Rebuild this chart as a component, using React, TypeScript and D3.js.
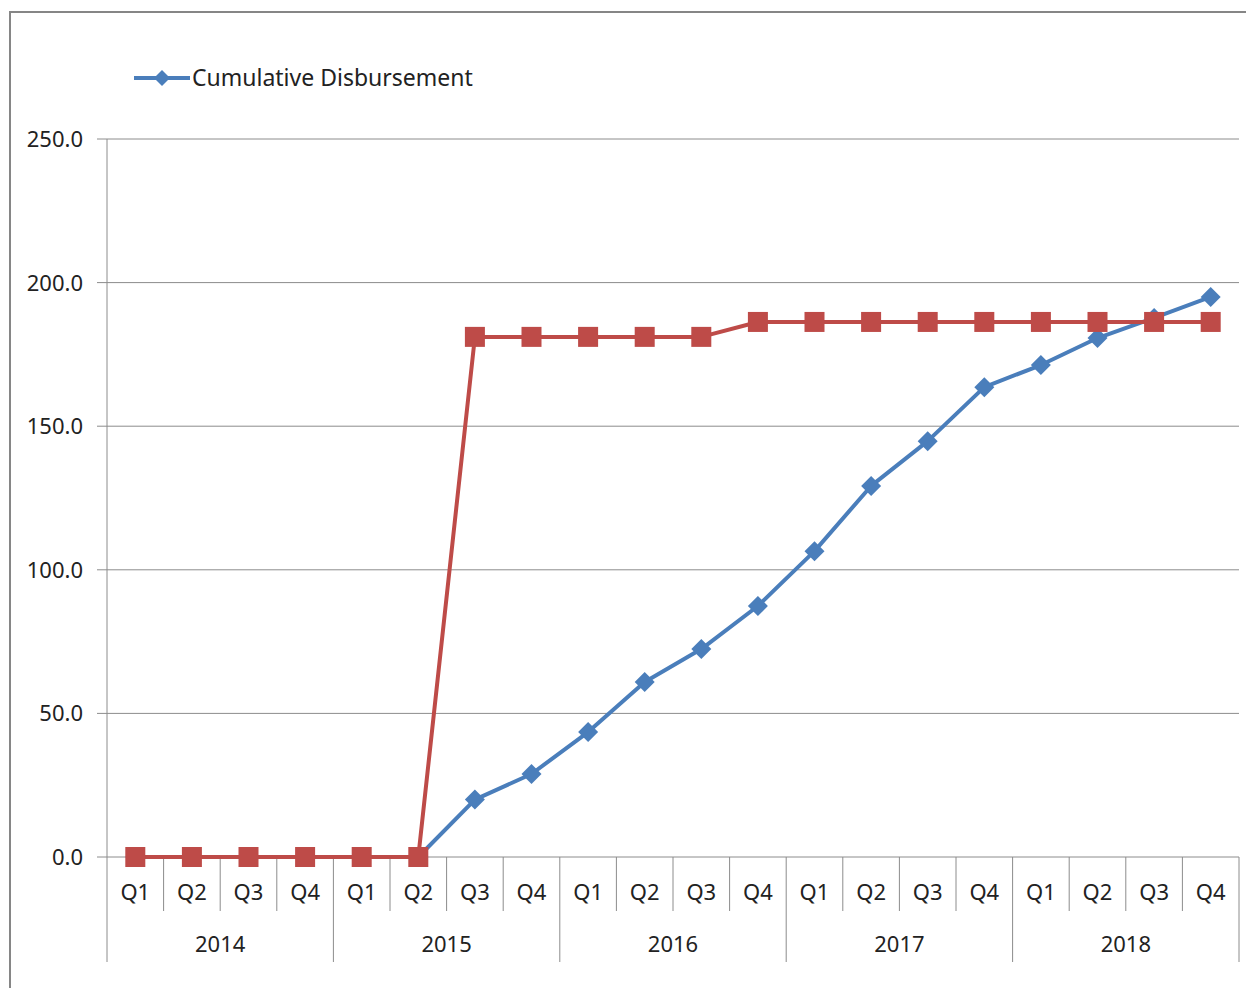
import React from "react";
import * as d3 from "d3";

const years = ["2014", "2015", "2016", "2017", "2018"];
const quarters = ["Q1", "Q2", "Q3", "Q4"];
const cumulative = [0, 0, 0, 0, 0, 0, 20.0, 28.9, 43.5, 60.9, 72.4, 87.4, 106.5, 129.2, 144.8, 163.6, 171.3, 180.7, 187.7, 195.0];
const planned = [0, 0, 0, 0, 0, 0, 181.1, 181.1, 181.1, 181.1, 181.1, 186.3, 186.3, 186.3, 186.3, 186.3, 186.3, 186.3, 186.3, 186.3];
const yTicks = [0, 50, 100, 150, 200, 250];

const W = 1246;
const H = 988;
const left = 107;
const right = 1239;
const top = 139;
const bottom = 857;
const font = "'Noto Sans', 'Open Sans', sans-serif";
const fs = 22;

export default function App() {
  const keys = years.flatMap((y) => quarters.map((q) => `${y}-${q}`));
  const x = d3.scaleBand().domain(keys).range([left, right]);
  const y = d3.scaleLinear().domain([0, 250]).range([bottom, top]);
  const cx = (i: number) => (x(keys[i]) as number) + x.bandwidth() / 2;
  const line = d3
    .line<number>()
    .x((_, i) => cx(i))
    .y((d) => y(d));
  const diamond = (px: number, py: number, r: number) =>
    `M${px},${py - r}L${px + r},${py}L${px},${py + r}L${px - r},${py}Z`;

  const blue = "#4a7ebb";
  const red = "#be4b48";

  return (
    <svg width={W} height={H} style={{ position: "absolute", left: 0, top: 0 }}>
      <rect x={0} y={0} width={W} height={H} fill="#fff" />
      <rect x={10} y={12} width={W + 10} height={H + 10} fill="none" stroke="#868686" strokeWidth={2} />

      {/* gridlines and y labels */}
      {yTicks.map((t) => (
        <g key={t}>
          <line x1={left - 10} x2={right} y1={y(t)} y2={y(t)} stroke="#8c8c8c" strokeWidth={1} />
          <text x={83} y={y(t) + 8} textAnchor="end" fontFamily={font} fontSize={fs} fill="#222">
            {t.toFixed(1)}
          </text>
        </g>
      ))}
      <line x1={left} x2={left} y1={top} y2={962} stroke="#8c8c8c" strokeWidth={1} />

      {/* category axis */}
      {keys.map((k, i) => (
        <g key={k}>
          <line
            x1={(x(k) as number) + x.bandwidth()}
            x2={(x(k) as number) + x.bandwidth()}
            y1={bottom}
            y2={i % 4 === 3 ? 962 : 911}
            stroke="#8c8c8c"
            strokeWidth={1}
          />
          <text x={cx(i)} y={900} textAnchor="middle" fontFamily={font} fontSize={fs} fill="#222">
            {quarters[i % 4]}
          </text>
        </g>
      ))}
      {years.map((yr) => {
        const x0 = x(`${yr}-Q1`) as number;
        const x1 = (x(`${yr}-Q4`) as number) + x.bandwidth();
        return (
          <text key={yr} x={(x0 + x1) / 2} y={952} textAnchor="middle" fontFamily={font} fontSize={fs} fill="#222">
            {yr}
          </text>
        );
      })}

      {/* cumulative disbursement */}
      <path d={line(cumulative) as string} fill="none" stroke={blue} strokeWidth={4} strokeLinejoin="round" />
      {cumulative.map((v, i) => (
        <path key={i} d={diamond(cx(i), y(v), 10)} fill={blue} />
      ))}

      {/* planned */}
      <path d={line(planned) as string} fill="none" stroke={red} strokeWidth={4} strokeLinejoin="round" />
      {planned.map((v, i) => (
        <rect key={i} x={cx(i) - 10} y={y(v) - 10} width={20} height={20} fill={red} />
      ))}

      {/* legend */}
      <line x1={134} x2={190} y1={78} y2={78} stroke={blue} strokeWidth={4} />
      <path d={diamond(162, 78, 8)} fill={blue} />
      <text x={192} y={86} fontFamily={font} fontSize={fs + 1} fill="#222">
        Cumulative Disbursement
      </text>
    </svg>
  );
}
